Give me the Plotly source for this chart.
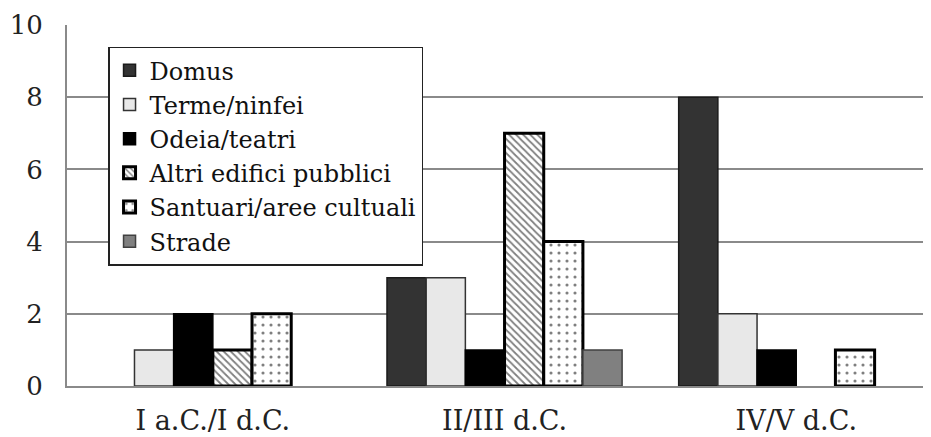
import plotly.graph_objects as go

categories = ["I a.C./I d.C.", "II/III d.C.", "IV/V d.C."]
series_names = ["Domus", "Terme/ninfei", "Odeia/teatri", "Altri edifici pubblici",
                "Santuari/aree cultuali", "Strade"]
domus = [None, 3, 8]
terme = [1, 3, 2]
odeia = [2, 1, 1]
altri = [1, 7, None]
santuari = [2, 4, 1]
strade = [None, 1, None]
y_ticks = [0, 2, 4, 6, 8, 10]

values = [domus, terme, odeia, altri, santuari, strade]

styles = [
    dict(color="#333333", line=dict(color="#1a1a1a", width=1.5)),
    dict(color="#e8e8e8", line=dict(color="#333333", width=1.5)),
    dict(color="#000000", line=dict(color="#000000", width=1.5)),
    dict(color="white", line=dict(color="#000000", width=3),
         pattern=dict(shape="\\", fgcolor="#000000", bgcolor="white", size=5, solidity=0.35)),
    dict(color="white", line=dict(color="#000000", width=3),
         pattern=dict(shape=".", fgcolor="#000000", bgcolor="white", size=8, solidity=0.12)),
    dict(color="#808080", line=dict(color="#404040", width=1.5)),
]

fig = go.Figure()
for name, vals, st in zip(series_names, values, styles):
    fig.add_trace(go.Bar(x=categories, y=vals, name=name, marker=st))

font_family = "DejaVu Serif"
fig.update_layout(
    width=923, height=429,
    margin=dict(l=59, r=0, t=17, b=51, autoexpand=False),
    paper_bgcolor="white", plot_bgcolor="white",
    barmode="group", bargap=0.194, bargroupgap=0,
    font=dict(family=font_family, color="#222222", size=26),
    showlegend=True,
    legend=dict(x=0.0475, y=0.94, xanchor="left", yanchor="top",
                bgcolor="white", bordercolor="#222222", borderwidth=1.5,
                font=dict(family=font_family, size=24, color="#111111"),
                traceorder="normal"),
    xaxis=dict(range=[-0.5, 2.462], showgrid=False, showline=True,
               linecolor="#8a8a8a", linewidth=2, ticks="",
               tickfont=dict(family=font_family, size=27, color="#222222"),
               ticklabelstandoff=10, automargin=False),
    yaxis=dict(range=[0, 10], tickvals=y_ticks, showgrid=True,
               gridcolor="#8a8a8a", gridwidth=1.8, zeroline=False,
               showline=True, linecolor="#8a8a8a", linewidth=2, ticks="",
               tickfont=dict(family=font_family, size=26, color="#222222"),
               ticklabelstandoff=17, automargin=False),
)

fig.write_html("out.html")
